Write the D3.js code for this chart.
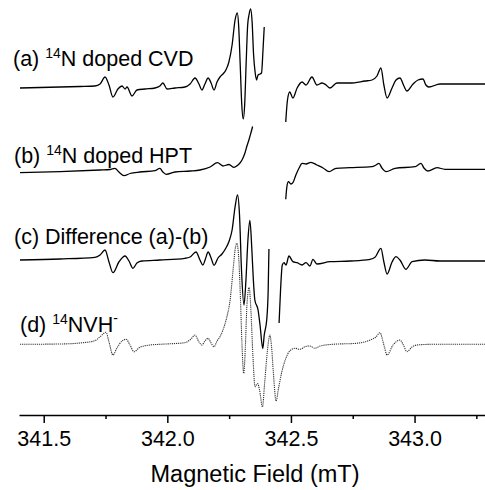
<!DOCTYPE html>
<html><head><meta charset="utf-8">
<script src="https://cdn.jsdelivr.net/npm/d3@7"></script>
<style>
html,body{margin:0;padding:0;background:#fff;}
svg{display:block;font-family:"Liberation Sans",Arial,sans-serif;}
</style></head>
<body><svg id="c" width="485" height="490"></svg>
<script>
// ---- data (magnetic field in mT, EPR signal in arbitrary units) ----
const fieldA = [341.404,341.485,341.566,341.647,341.707,341.728,341.748,341.764,341.780,341.800,341.817,341.829,341.837,341.857,341.877,341.910,341.950,341.970,341.982,341.999,342.031,342.071,342.092,342.112,342.128,342.140,342.152,342.165,342.177,342.189,342.201,342.213,342.225,342.237,342.249,342.262,342.274,342.283,342.289,342.295,342.301,342.307,342.313,342.319,342.325,342.331,342.337,342.343,342.349,342.355,342.361,342.367,342.375,342.381,342.387,342.392,
  342.430,
  342.479,342.486,342.495,342.508,342.525,342.545,342.561,342.585,342.605,342.626,342.642,342.658,342.686,342.739,342.800,342.828,342.848,342.864,342.876,342.889,342.909,342.925,342.941,342.957,342.969,342.994,343.014,343.034,343.046,343.058,343.103,343.184,343.285];
const signalA = [0,0.05,0.1,0.15,0.2,0.4,1.1,0.3,-0.9,-0.1,0.2,-0.1,0.1,-0.8,-0.2,-0.1,0,0.2,0.5,-0.1,0,0.1,0.4,1.0,0.4,-0.2,0.4,1.0,0.5,-0.2,0.6,1.1,1.4,1.8,2.6,4.3,6.8,7.5,6.0,2.2,-1.6,-3.1,-1.6,2.6,6.3,7.4,7.9,6.6,3.3,1.6,0.8,1.3,1.4,1.5,3.8,6.1,
  null,
  -3.4,-1.2,-0.4,-1.0,0,0.6,0.3,1.1,0.3,0.5,0.3,0,0.5,0.5,0.7,0.8,1.2,2.0,0.3,-1.0,0,0.8,1.0,0.2,-0.3,0.4,0.8,0.9,0.3,0.1,0.4,0.4,0.4];

const fieldB = [341.404,341.566,341.728,341.768,341.788,341.804,341.825,341.849,341.889,341.950,341.970,341.982,341.995,342.031,342.092,342.132,342.173,342.203,342.225,342.249,342.270,342.286,342.298,342.306,342.314,342.322,342.330,342.338,342.345,
  342.410,
  342.479,342.484,342.490,342.500,342.508,342.520,342.533,342.545,342.561,342.581,342.605,342.630,342.654,342.682,342.739,342.828,342.844,342.856,342.868,342.885,342.921,343.002,343.014,343.026,343.038,343.054,343.091,343.123,343.285];
const signalB = [-0.07,0.03,0.2,0.25,0.37,0,-0.37,-0.15,0,0.13,0.37,0,-0.23,0,0.1,0.2,0.5,0.93,0.6,0.75,0.47,0.7,1.03,1.4,1.9,2.6,3.2,3.9,4.55,
  null,
  -2.73,-1.4,-0.97,-1.2,-1.07,-0.3,0.4,0.87,0.8,0.97,0.7,0.4,0.03,0.37,0.43,0.53,0.7,0.87,0.4,0.03,0.37,0.53,0.7,0.87,0.4,0.1,0.43,0.27,0.27];

const fieldC = [341.404,341.566,341.707,341.728,341.748,341.764,341.780,341.804,341.829,341.845,341.861,341.877,341.897,341.970,342.071,342.092,342.116,342.132,342.144,342.154,342.165,342.177,342.189,342.205,342.221,342.237,342.249,342.262,342.274,342.284,342.292,342.300,342.310,342.318,342.326,342.334,342.342,342.348,342.354,342.367,342.375,342.386,342.392,342.402,342.408,342.411,
  342.430,
  342.452,342.458,342.465,342.472,342.480,342.492,342.508,342.525,342.545,342.561,342.577,342.589,342.605,342.658,342.739,342.820,342.840,342.864,342.876,342.889,342.909,342.925,342.941,342.965,342.990,343.042,343.103,343.285];
const signalC = [0,0.1,0.27,0.5,1.0,-0.2,-1.27,-0.2,0.4,-0.1,-0.83,-0.3,-0.1,0,0.17,0.3,0.8,0,-0.5,0.1,0.8,0.2,-0.53,0.2,0.6,1.2,1.83,3.0,5.3,6.5,4.5,-1.0,-4.5,-2.0,2.0,3.95,1.0,-2.0,-4.0,-5.0,-6.5,-8.85,-7.5,-6.0,-3.0,1.1,
  null,
  -6.3,-3.0,-0.5,-0.27,-0.5,0.4,-0.17,-0.27,-0.5,-0.27,-0.6,0.07,-0.4,-0.17,-0.1,0.07,0.27,1.17,-0.2,-1.4,-0.2,0.33,0,-0.93,-0.17,0,-0.1,-0.1];

const fieldD = [341.404,341.566,341.647,341.707,341.728,341.752,341.764,341.780,341.796,341.817,341.833,341.849,341.865,341.889,341.930,341.970,342.071,342.096,342.112,342.128,342.140,342.152,342.165,342.177,342.189,342.201,342.213,342.225,342.241,342.254,342.266,342.274,342.281,342.288,342.296,342.302,342.309,342.316,342.322,342.331,342.338,342.346,342.355,342.365,342.373,342.385,342.393,342.402,342.410,342.415,342.421,342.429,342.440,342.450,342.463,342.480,342.496,342.516,342.537,342.557,342.577,342.597,342.618,342.670,342.766,342.820,342.844,342.860,342.876,342.889,342.913,342.941,342.955,342.969,342.990,343.009,343.075,343.285];
const signalD = [-0.03,0,0.1,0.33,0.73,1.17,0.2,-1.1,-0.4,0.3,0.47,-0.1,-0.77,-0.33,-0.1,-0.03,0.13,0.5,0.9,0.2,-0.1,0.3,0.57,0.1,-0.27,0.3,0.73,1.4,2.73,4.4,7.4,9.4,10.07,8.9,4.4,-0.1,-2.93,-0.1,3.9,5.65,3.4,-1.1,-4.27,-3.95,-4.6,-6.3,-4.1,-1.4,0.4,0.9,-0.1,-2.9,-5.7,-4.4,-2.8,-1.4,-0.67,-0.43,-0.53,-0.27,-0.2,-0.43,-0.2,-0.03,0.07,0.4,0.7,1.13,-0.1,-1.1,-0.1,0.4,-0.1,-0.77,-0.3,-0.1,-0.03,-0.03];

// vertical stacking offsets of the four traces (a.u.)
const offsets = [32.7, 24.3, 15.5, 7.1];
const labelsMain = ["(a) ", "(b) ", "(c) Difference (a)-(b)", "(d) "];
const labelsSup = ["14", "14", "", "14"];
const labelsRest = ["N doped CVD", "N doped HPT", "", "NVH"];
const labelsSup2 = ["", "", "", "-"];
const majorTicks = [341.5, 342.0, 342.5, 343.0];
const minorTicks = [341.75, 342.25, 342.75, 343.25];
const xTitle = "Magnetic Field (mT)";

// ---- drawing ----
const svg = d3.select("#c");
const x = d3.scaleLinear().domain([341.4, 343.285]).range([19, 485]);
const y = d3.scaleLinear().domain([0, 41.5]).range([415, 0]);

const series = [[fieldA, signalA], [fieldB, signalB], [fieldC, signalC], [fieldD, signalD]];
const line = d3.line()
  .defined(d => d.s !== null)
  .x(d => x(d.f))
  .y(d => y(d.s + d.o))
  .curve(d3.curveMonotoneX);

series.forEach(([f, s], i) => {
  const pts = f.map((v, j) => ({f: v, s: s[j], o: offsets[i]}));
  svg.append("path")
    .datum(pts)
    .attr("d", line)
    .attr("fill", "none")
    .attr("stroke", i === 3 ? "#333" : "#000")
    .attr("stroke-width", i === 3 ? 1.1 : 1.3)
    .attr("stroke-dasharray", i === 3 ? "1.2,0.9" : null)
    .attr("stroke-linejoin", "round");
});

// labels
const labelX = [13, 14, 14, 20];
const labelY = [66, 163, 244, 332];
labelsMain.forEach((t, i) => {
  const txt = svg.append("text")
    .attr("x", labelX[i]).attr("y", labelY[i])
    .attr("font-size", 21.5).attr("fill", "#000");
  txt.append("tspan").text(t);
  if (labelsSup[i]) txt.append("tspan").attr("font-size", 14).attr("dy", -8.5).text(labelsSup[i]);
  if (labelsRest[i]) txt.append("tspan").attr("dy", 8.5).text(labelsRest[i]);
  if (labelsSup2[i]) txt.append("tspan").attr("font-size", 14).attr("dy", -9.5).text(labelsSup2[i]);
});

// axis
const gx = svg.append("g").attr("transform", `translate(0,${y(0)})`);
gx.call(d3.axisBottom(x).tickValues(majorTicks).tickSize(8).tickSizeOuter(0).tickPadding(8)
  .tickFormat(d3.format(".1f")));
gx.selectAll(".tick text").attr("font-size", 21.5).attr("font-family", "Liberation Sans, Arial, sans-serif").attr("fill", "#000");
gx.selectAll("line,path").attr("stroke", "#000").attr("stroke-width", 1.5);
const gm = svg.append("g").attr("transform", `translate(0,${y(0)})`);
gm.call(d3.axisBottom(x).tickValues(minorTicks).tickSize(4).tickSizeOuter(0).tickFormat(""));
gm.select(".domain").remove();
gm.selectAll("line").attr("stroke", "#000").attr("stroke-width", 1.5);

svg.append("text").attr("x", 255).attr("y", 482).attr("text-anchor", "middle")
  .attr("font-size", 23.5).attr("fill", "#000").text(xTitle);
</script></body></html>
